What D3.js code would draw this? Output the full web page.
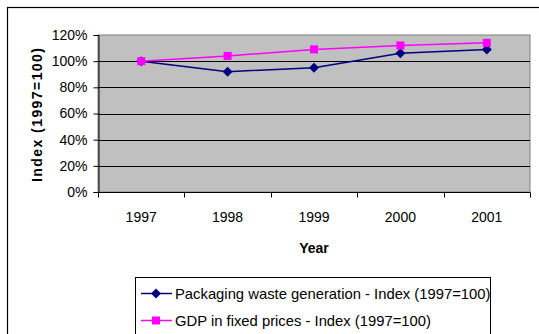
<!DOCTYPE html>
<html>
<head>
<meta charset="utf-8">
<script src="https://cdn.jsdelivr.net/npm/d3@7"></script>
<style>
  html, body { margin: 0; padding: 0; background: #fff; }
  svg { display: block; font-family: "Liberation Sans", Arial, sans-serif; }
</style>
</head>
<body>
<svg id="chart" width="539" height="334"></svg>
<script>
// Index series, 1997 = 100
const years = ["1997", "1998", "1999", "2000", "2001"];
const packagingWaste = [100, 92, 95, 106, 109];
const gdpFixed = [100, 104, 109, 112, 114];
const yTicks = [0, 20, 40, 60, 80, 100, 120];
const seriesNames = [
  "Packaging waste generation - Index (1997=100)",
  "GDP in fixed prices - Index (1997=100)"
];
const seriesColors = ["#000080", "#FF00FF"];

const svg = d3.select("#chart");
const plot = { left: 98, right: 530, top: 35, bottom: 192 };

// Outer chart frame (runs off the right and bottom edges)
svg.append("rect")
  .attr("x", 7.5).attr("y", 7.5)
  .attr("width", 560).attr("height", 360)
  .attr("fill", "none").attr("stroke", "#000").attr("stroke-width", 1.2);

const x = d3.scaleBand().domain(years).range([plot.left, plot.right]).padding(0);
const y = d3.scaleLinear().domain([0, 120]).range([plot.bottom, plot.top]);

// Plot area background
svg.append("rect")
  .attr("x", plot.left).attr("y", plot.top)
  .attr("width", plot.right - plot.left).attr("height", plot.bottom - plot.top)
  .attr("fill", "#C0C0C0").attr("stroke", "#808080").attr("stroke-width", 1);

// Horizontal gridlines
svg.append("g").selectAll("line")
  .data(yTicks.filter(d => d > 0 && d < 120))
  .join("line")
  .attr("x1", plot.left).attr("x2", plot.right)
  .attr("y1", d => Math.round(y(d)) + 0.5).attr("y2", d => Math.round(y(d)) + 0.5)
  .attr("stroke", "#000").attr("stroke-width", 1);

// Y axis
const yAxis = d3.axisLeft(y).tickValues(yTicks).tickFormat(d => d + "%").tickSize(5).tickPadding(6);
const gy = svg.append("g").attr("transform", `translate(${plot.left + 0.5},0)`).call(yAxis);
gy.select(".domain").attr("stroke", "#000");
gy.selectAll(".tick line").attr("stroke", "#000");
gy.selectAll(".tick text").attr("font-size", 14).attr("fill", "#000")
  .attr("font-family", "Liberation Sans, Arial, sans-serif");

// X axis with ticks on category boundaries
const gx = svg.append("g").attr("transform", `translate(0,${plot.bottom + 0.5})`);
gx.append("line").attr("x1", plot.left).attr("x2", plot.right).attr("stroke", "#000");
const bounds = years.map(d => x(d)).concat([plot.right]);
gx.selectAll("line.tk").data(bounds).join("line").attr("class", "tk")
  .attr("x1", d => Math.round(d) + 0.5).attr("x2", d => Math.round(d) + 0.5)
  .attr("y1", 0).attr("y2", 5).attr("stroke", "#000");
gx.selectAll("text").data(years).join("text")
  .attr("x", d => x(d) + x.bandwidth() / 2).attr("y", 29)
  .attr("text-anchor", "middle").attr("font-size", 14).attr("fill", "#000")
  .text(d => d);

// Axis titles
svg.append("text")
  .attr("x", (plot.left + plot.right) / 2).attr("y", 253)
  .attr("text-anchor", "middle").attr("font-size", 14).attr("font-weight", "bold")
  .text("Year");
svg.append("text")
  .attr("transform", "translate(42,115) rotate(-90)")
  .attr("text-anchor", "middle").attr("font-size", 14).attr("font-weight", "bold")
  .attr("textLength", 134).attr("lengthAdjust", "spacing")
  .text("Index (1997=100)");

// Series lines and markers
const line = d3.line().x((d, i) => x(years[i]) + x.bandwidth() / 2).y(d => y(d));
const diamondPath = "M0,-5L5,0L0,5L-5,0Z";

function drawMarker(g, s, cx, cy) {
  if (s === 0) {
    g.append("path").attr("d", diamondPath).attr("transform", `translate(${cx},${cy})`)
      .attr("fill", seriesColors[s]);
  } else {
    g.append("rect").attr("x", cx - 4).attr("y", cy - 4).attr("width", 8).attr("height", 8)
      .attr("fill", seriesColors[s]);
  }
}

[packagingWaste, gdpFixed].forEach((vals, s) => {
  svg.append("path").datum(vals).attr("d", line)
    .attr("fill", "none").attr("stroke", seriesColors[s]).attr("stroke-width", 1.5);
  const g = svg.append("g");
  vals.forEach((v, i) => drawMarker(g, s, x(years[i]) + x.bandwidth() / 2, y(v)));
});

// Legend
const legend = svg.append("g");
legend.append("rect")
  .attr("x", 135.5).attr("y", 277.5).attr("width", 355).attr("height", 80)
  .attr("fill", "#fff").attr("stroke", "#000").attr("stroke-width", 1);
seriesNames.forEach((name, s) => {
  const ly = 293.5 + s * 27;
  legend.append("line").attr("x1", 141).attr("x2", 172).attr("y1", ly).attr("y2", ly)
    .attr("stroke", seriesColors[s]).attr("stroke-width", 1.5);
  drawMarker(legend, s, 156, ly);
  legend.append("text").attr("x", 175).attr("y", ly + 5)
    .attr("font-size", 14.8).attr("fill", "#000").text(name);
});
</script>
</body>
</html>
